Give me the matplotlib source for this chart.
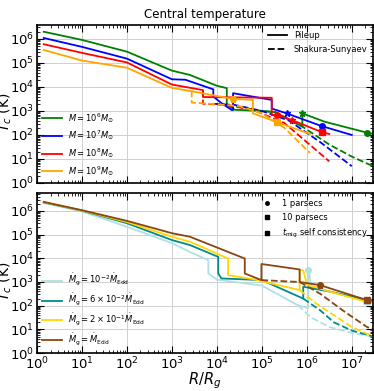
import numpy as np
import matplotlib
matplotlib.use("Agg")
import matplotlib.pyplot as plt
from matplotlib.lines import Line2D

# ---------------- data (log10 R/Rg, log10 Tc) ----------------
# Top panel: different SMBH masses, pileup (solid) & Shakura-Sunyaev (dashed)
mass_labels = [r"$M=10^6M_{\odot}$", r"$M=10^7M_{\odot}$",
               r"$M=10^8M_{\odot}$", r"$M=10^9M_{\odot}$"]
mass_colors = ["green", "blue", "red", "orange"]

pile_logR = [
    [0.15, 1.0, 2.0, 3.0, 3.4, 4.0, 4.22, 4.22, 4.4, 5.0, 5.3, 5.9, 5.9, 6.4, 7.33, 7.47],
    [0.15, 1.0, 2.0, 3.0, 3.3, 3.92, 3.92, 4.1, 4.33, 4.36, 4.36, 5.22, 5.22, 5.55, 6.33, 7.0],
    [0.15, 1.0, 2.0, 3.0, 3.69, 3.69, 5.22, 5.22, 5.33, 5.67, 6.33, 6.5],
    [0.15, 1.0, 2.0, 3.0, 3.5, 4.36, 4.8, 4.8, 5.33, 6.07],
]
pile_logT = [
    [6.30, 5.96, 5.47, 4.68, 4.5, 4.05, 3.95, 3.25, 3.05, 3.0, 2.95, 2.35, 2.9, 2.55, 2.1, 2.05],
    [6.04, 5.67, 5.18, 4.32, 4.3, 3.9, 3.6, 3.33, 3.04, 3.04, 3.74, 3.46, 3.1, 2.9, 2.37, 2.0],
    [5.78, 5.42, 5.02, 4.1, 3.87, 3.58, 3.55, 2.83, 2.83, 2.62, 2.12, 2.04],
    [5.54, 5.1, 4.8, 3.96, 3.8, 3.5, 3.46, 2.9, 2.54, 2.04],
]
ss_logR = [
    [4.22, 5.0, 5.3, 5.9, 6.5, 7.0, 7.47],
    [3.92, 4.4, 5.0, 5.6, 6.3, 7.0],
    [3.69, 3.69, 4.2, 4.8, 5.5, 6.5],
    [3.44, 3.44, 4.0, 4.5, 5.0, 5.5, 6.07],
]
ss_logT = [
    [3.25, 3.0, 2.95, 2.35, 1.6, 1.1, 0.7],
    [3.3, 3.25, 3.0, 2.6, 1.7, 0.7],
    [3.87, 3.3, 3.25, 3.05, 2.5, 0.9],
    [3.85, 3.35, 3.28, 3.2, 2.9, 2.3, 1.25],
]
# markers: (logR, logT) for 1 pc (o), 10 pc (s), t_mig self consistency (*)
top_pc1 = [(7.33, 2.1), (6.33, 2.37), (5.33, 2.83), (4.36, 3.5)]
top_pc10 = [None, None, (6.33, 2.12), (5.33, 2.54)]
top_tmig = [(5.9, 2.9), (5.55, 2.9), (5.67, 2.62), (4.36, 3.5)]

# Bottom panel: different accretion rates
mdot_labels = [r"$\dot{M}_{\rm g}=10^{-2}\dot{M}_{\rm Edd}$",
               r"$\dot{M}_{\rm g}=6\times10^{-2}\dot{M}_{\rm Edd}$",
               r"$\dot{M}_{\rm g}=2\times10^{-1}\dot{M}_{\rm Edd}$",
               r"$\dot{M}_{\rm g}=\dot{M}_{\rm Edd}$"]
mdot_colors = ["powderblue", "darkcyan", "gold", "saddlebrown"]

b_pile_logR = [
    [0.15, 1.0, 2.0, 3.0, 3.4, 3.81, 3.81, 4.0, 5.0, 5.8, 6.03, 6.03, 6.1, 6.5, 7.33, 7.47],
    [0.15, 1.0, 2.0, 3.0, 3.4, 4.03, 4.03, 4.1, 5.0, 5.92, 5.92, 6.5, 7.33, 7.47],
    [0.15, 1.0, 2.0, 3.0, 3.4, 4.25, 4.25, 4.8, 5.84, 5.84, 5.92, 6.0, 6.5, 7.33, 7.47],
    [0.15, 1.0, 2.0, 3.0, 3.4, 4.62, 4.62, 4.99, 4.99, 5.84, 5.84, 6.29, 7.33, 7.47],
]
b_pile_logT = [
    [6.33, 5.98, 5.33, 4.64, 4.27, 3.92, 3.36, 3.1, 2.85, 2.02, 1.9, 3.6, 2.8, 2.6, 2.2, 2.15],
    [6.36, 6.01, 5.48, 4.77, 4.56, 4.06, 3.36, 3.15, 3.08, 2.3, 2.8, 2.6, 2.24, 2.2],
    [6.37, 6.02, 5.53, 4.91, 4.7, 3.99, 3.29, 3.12, 2.66, 3.5, 3.5, 2.9, 2.6, 2.16, 2.12],
    [6.38, 6.03, 5.58, 5.06, 4.91, 3.99, 3.36, 3.08, 3.76, 3.53, 3.0, 2.87, 2.24, 2.2],
]
b_ss_logR = [
    [5.8, 6.1, 6.5, 7.0, 7.47],
    [5.92, 6.3, 6.6, 7.0, 7.47],
    [5.84, 6.2, 6.6, 7.0, 7.47],
    [4.99, 5.84, 6.3, 6.8, 7.33, 7.47],
]
b_ss_logT = [
    [2.02, 1.5, 1.1, 0.85, 0.7],
    [2.3, 1.8, 1.3, 0.95, 0.7],
    [2.66, 2.1, 1.6, 1.1, 0.7],
    [3.08, 3.0, 2.5, 1.8, 1.11, 1.0],
]
b_pc1 = [(6.03, 3.5), None, None, (6.29, 2.87)]
b_pc10 = [(7.33, 2.2), None, None, (7.33, 2.24)]
b_tmig = [None, None, None, (6.29, 2.87)]

xlim = (1.0, 3e7)
ylim_top = (1.0, 10 ** 6.58)
ylim_bot = (1.0, 10 ** 6.75)

# ---------------- figure ----------------
plt.rcParams["font.family"] = ["DejaVu Sans"]
fig = plt.figure(figsize=(3.74, 3.91), dpi=100)
ax1 = fig.add_axes([0.099, 0.532, 0.899, 0.404])
ax2 = fig.add_axes([0.099, 0.097, 0.899, 0.409])

lw = 1.3


def style(ax, ylim):
    ax.set_xscale("log")
    ax.set_yscale("log")
    ax.set_xlim(*xlim)
    ax.set_ylim(*ylim)
    ax.grid(True, which="major", color="#d0d0d0", lw=0.7)
    ax.tick_params(which="both", direction="in", top=True, right=True,
                   labelsize=9.5, pad=2)
    ax.tick_params(which="major", length=5)
    ax.tick_params(which="minor", length=2.5)
    ax.xaxis.set_major_locator(matplotlib.ticker.LogLocator(base=10, numticks=20))
    ax.xaxis.set_minor_locator(matplotlib.ticker.LogLocator(base=10, subs=np.arange(2, 10), numticks=50))
    ax.yaxis.set_major_locator(matplotlib.ticker.LogLocator(base=10, numticks=20))
    ax.yaxis.set_minor_locator(matplotlib.ticker.LogLocator(base=10, subs=np.arange(2, 10), numticks=50))
    for s in ax.spines.values():
        s.set_linewidth(1.2)
    ax.set_ylabel(r"$T_c$ (K)", fontsize=10)
    ax.yaxis.set_label_coords(-0.068, 0.45)


def p(v):
    return 10 ** np.asarray(v)


def marker(ax, pt, m, c, ms):
    if pt is not None:
        ax.plot([10 ** pt[0]], [10 ** pt[1]], m, color=c, ms=ms, zorder=5)


# top
style(ax1, ylim_top)
for i in range(4):
    c = mass_colors[i]
    ax1.plot(p(ss_logR[i]), p(ss_logT[i]), "--", color=c, lw=lw)
    ax1.plot(p(pile_logR[i]), p(pile_logT[i]), "-", color=c, lw=lw, label=mass_labels[i])
    marker(ax1, top_tmig[i], "*", c, 5)
    marker(ax1, top_pc1[i], "o", c, 4)
    marker(ax1, top_pc10[i], "s", c, 4)
ax1.tick_params(labelbottom=False)
leg1 = ax1.legend(loc="lower left", frameon=False, fontsize=6, handlelength=2.3,
                  labelspacing=0.45, borderaxespad=0.25)
ax1.add_artist(leg1)
h = [Line2D([], [], color="k", lw=lw, ls="-"), Line2D([], [], color="k", lw=lw, ls="--")]
ax1.legend(h, ["Pileup", "Shakura-Sunyaev"], loc="upper right", frameon=False,
           fontsize=6, handlelength=2.3, labelspacing=0.6, borderaxespad=0.3)
ax1.set_title("Central temperature", fontsize=8.5, pad=5)

# bottom
style(ax2, ylim_bot)
for i in range(4):
    c = mdot_colors[i]
    ax2.plot(p(b_ss_logR[i]), p(b_ss_logT[i]), "--", color=c, lw=lw)
    ax2.plot(p(b_pile_logR[i]), p(b_pile_logT[i]), "-", color=c, lw=lw, label=mdot_labels[i])
    marker(ax2, b_tmig[i], "*", c, 5)
    marker(ax2, b_pc1[i], "o", c, 4)
    marker(ax2, b_pc10[i], "s", c, 4)
leg2 = ax2.legend(loc="lower left", frameon=False, fontsize=6, handlelength=2.3,
                  labelspacing=0.45, borderaxespad=0.25)
ax2.add_artist(leg2)
h2 = [Line2D([], [], color="k", marker="o", ls="none", ms=2.5),
      Line2D([], [], color="k", marker="s", ls="none", ms=2.5),
      Line2D([], [], color="k", marker="s", ls="none", ms=3.5)]
ax2.legend(h2, ["1 parsecs", "10 parsecs", r"$t_{\rm mig}$ self consistency"],
           loc="upper right", frameon=False, fontsize=6, labelspacing=0.6,
           borderaxespad=0.3, handletextpad=0.8)
ax2.set_xlabel(r"$R/R_g$", fontsize=10.5)
ax2.xaxis.set_label_coords(0.5, -0.11)

fig.savefig("out.png", dpi=100)
